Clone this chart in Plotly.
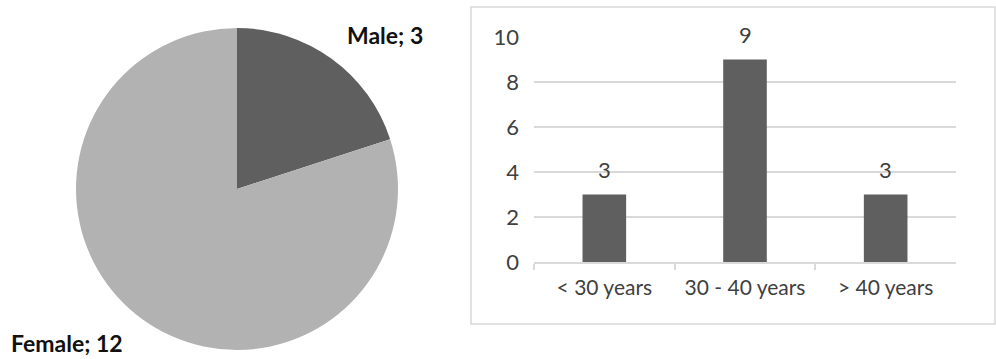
import plotly.graph_objects as go

# Data
gender_labels = ["Male", "Female"]
gender_values = [3, 12]
age_groups = ["< 30 years", "30 - 40 years", "> 40 years"]
age_counts = [3, 9, 3]
y_ticks = [0, 2, 4, 6, 8, 10]

W, H = 996, 359
FONT = "Lato, Carlito, Calibri, sans-serif"
TXT = "#404040"

def px(x):
    return x / W

def py(y):
    return (H - y) / H

fig = go.Figure()

fig.add_trace(go.Pie(
    labels=gender_labels,
    values=gender_values,
    sort=False,
    direction="clockwise",
    rotation=0,
    marker=dict(colors=["#5f5f5f", "#b2b2b2"], line=dict(width=0)),
    textinfo="none",
    hoverinfo="label+value",
    showlegend=False,
    domain=dict(x=[px(76), px(398)], y=[py(350), py(28)]),
))

fig.add_trace(go.Bar(
    x=age_groups,
    y=age_counts,
    marker=dict(color="#5f5f5f", line=dict(width=0)),
    width=0.31,
    showlegend=False,
    xaxis="x",
    yaxis="y",
))

# pie labels: (x, y, yanchor)
pie_label_pos = [(385, 35, "middle"), (67, 359, "bottom")]
for (lab, val), (x, y, ya) in zip(zip(gender_labels, gender_values), pie_label_pos):
    fig.add_annotation(
        x=px(x), y=py(y), xref="paper", yref="paper",
        text=f"<b>{lab}; {val}</b>", showarrow=False,
        font=dict(family=FONT, size=23, color="#111111"),
        xanchor="center", yanchor=ya,
    )

# bar value labels
for cat, v in zip(age_groups, age_counts):
    fig.add_annotation(
        x=cat, y=v, xref="x", yref="y", text=str(v), showarrow=False,
        font=dict(family=FONT, size=22, color=TXT),
        yanchor="middle", yshift=25,
    )

# chart border for bar chart
fig.add_shape(type="rect", xref="paper", yref="paper",
              x0=px(471), x1=px(995), y0=py(324), y1=py(7),
              line=dict(color="#d9d9d9", width=1.5), fillcolor="rgba(0,0,0,0)")

fig.update_layout(
    width=W, height=H,
    margin=dict(l=0, r=0, t=0, b=0, autoexpand=False),
    paper_bgcolor="white",
    plot_bgcolor="white",
    font=dict(family=FONT, size=22, color=TXT),
    xaxis=dict(
        domain=[px(534), px(956)],
        anchor="y",
        type="category",
        automargin=False,
        showline=True, linecolor="#d9d9d9", linewidth=1.5,
        ticks="outside", tickson="boundaries", ticklen=6, tickcolor="#d9d9d9",
        tickwidth=1.5,
        showgrid=False,
        tickfont=dict(family=FONT, size=21, color=TXT),
        ticklabelstandoff=6,
    ),
    yaxis=dict(
        domain=[py(262), py(37)],
        anchor="x",
        automargin=False,
        range=[0, 10],
        tickvals=y_ticks,
        showgrid=True, gridcolor="#d9d9d9", gridwidth=1.5,
        zeroline=False, showline=False,
        tickfont=dict(family=FONT, size=22, color=TXT),
        ticklabelstandoff=14,
    ),
    bargap=0.69,
)

fig.write_html("out.html")
